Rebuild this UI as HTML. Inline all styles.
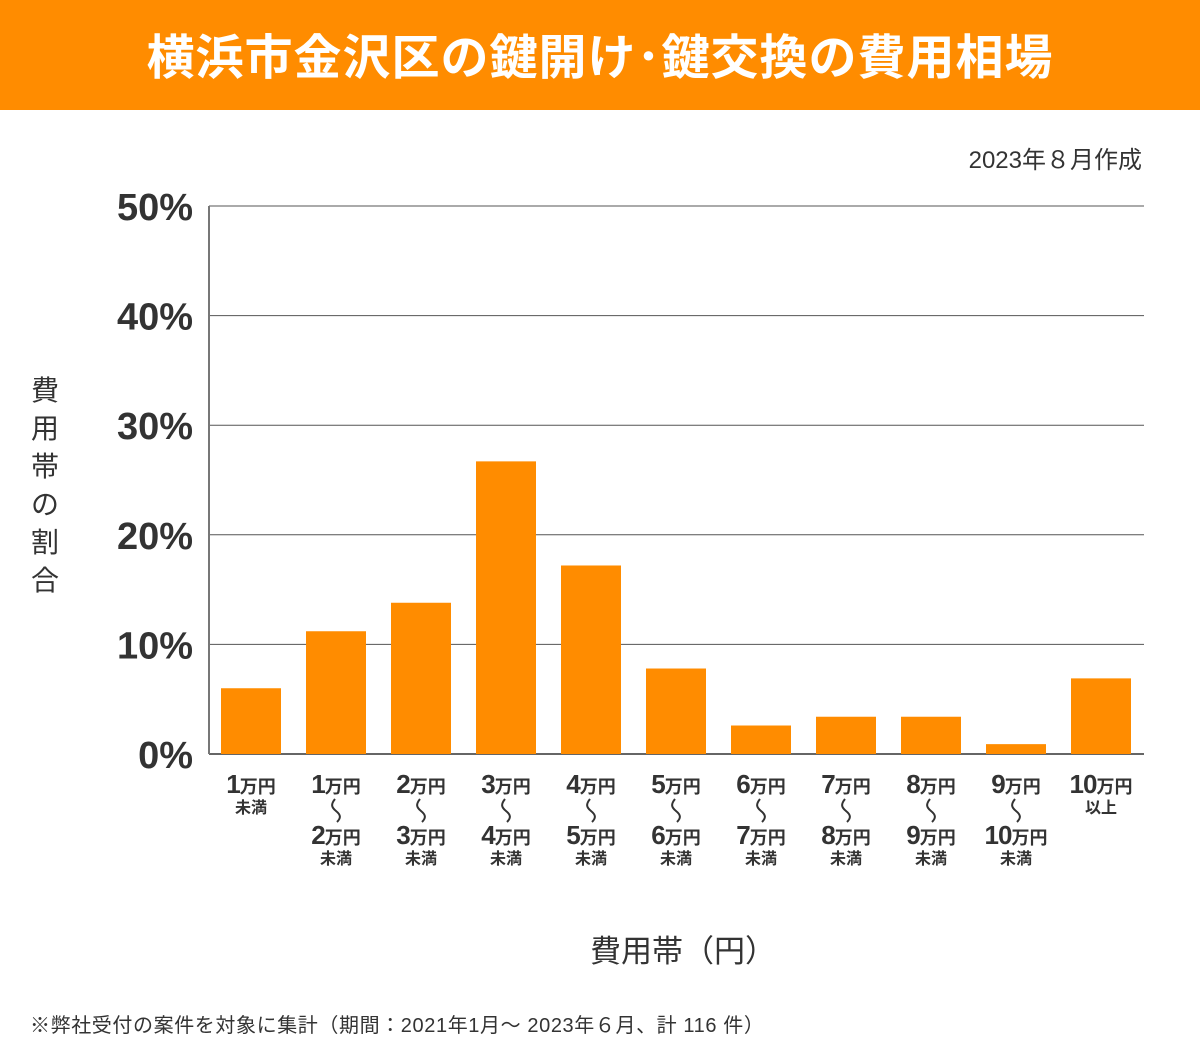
<!DOCTYPE html>
<html><head><meta charset="utf-8">
<style>
body{margin:0;width:1200px;height:1041px;background:#fff;font-family:"Liberation Sans","Noto Sans CJK JP",sans-serif;color:#333;position:relative;overflow:hidden}
.t{position:absolute;white-space:nowrap}
</style></head><body>
<div style="position:absolute;left:0;top:0;width:1200px;height:110px;background:#FF8C00"></div>
<div class="t" style="left:0;width:1200px;top:28px;text-align:center;color:#fff;font-weight:bold;font-size:48px;line-height:62px;letter-spacing:1px">横浜市金沢区の鍵開け･鍵交換の費用相場</div>
<div class="t" style="right:58px;top:140px;font-size:24px">2023年８月作成</div>
<div class="t" style="left:28px;top:372px;width:34px;font-size:28px;line-height:38px;white-space:normal;text-align:center">費用帯の割合</div>
<div class="t" style="left:590px;top:926px;font-size:31px">費用帯（円）</div>
<div class="t" style="left:30px;top:1009px;font-size:20px;letter-spacing:0.6px">※弊社受付の案件を対象に集計（期間：2021年1月～ 2023年６月、計 116 件）</div>
<svg id="chart" width="1200" height="1041" style="position:absolute;left:0;top:0"></svg>
<script>
const categories=[["1","未満"],["1","2","未満"],["2","3","未満"],["3","4","未満"],["4","5","未満"],["5","6","未満"],["6","7","未満"],["7","8","未満"],["8","9","未満"],["9","10","未満"],["10","以上"]];
const values=[6.0,11.2,13.8,26.7,17.2,7.8,2.6,3.4,3.4,0.9,6.9];
const yTicks=[0,10,20,30,40,50];
const NS="http://www.w3.org/2000/svg";
const svg=document.getElementById('chart');
const x0=209,x1=1144,yBase=754,yTop=206;
const y=v=>yBase-(v/50)*(yBase-yTop);
const step=85,first=251,bw=60;
const xc=i=>first+i*step;
function mk(tag,attrs,txt){const e=document.createElementNS(NS,tag);for(const k in attrs)e.setAttribute(k,attrs[k]);if(txt!==undefined)e.textContent=txt;svg.appendChild(e);return e;}
yTicks.forEach(t=>{
  const l=mk('line',{x1:x0,x2:x1,y1:y(t),y2:y(t),stroke:t===0?'#333':'#555','stroke-width':t===0?1.5:1});
  
  
  const tx=mk('text',{x:193,y:y(t)+14,'text-anchor':'end','font-size':38,'font-weight':'bold',fill:'#333','font-family':'Liberation Sans, sans-serif'},t+'%');
  
  
});
const ax=mk('line',{x1:x0,x2:x0,y1:yTop,y2:yBase,stroke:'#777','stroke-width':2});


values.forEach((v,i)=>{
  const r=mk('rect',{x:xc(i)-bw/2,y:y(v),width:bw,height:yBase-y(v),fill:'#FF8C00'});
  
  
});
const F='Liberation Sans, Noto Sans CJK JP, sans-serif';
function amount(cx,yy,num){
  const g=mk('text',{x:cx,y:yy,'text-anchor':'middle','font-weight':'bold',fill:'#333','font-family':F});
  
  
  const a=document.createElementNS(NS,'tspan');a.setAttribute('font-size','26');a.setAttribute('letter-spacing','-1');a.textContent=num;g.appendChild(a);
  const b=document.createElementNS(NS,'tspan');b.setAttribute('font-size','18');b.textContent='万円';g.appendChild(b);
}
function small(cx,yy,s){const e=mk('text',{x:cx,y:yy,'text-anchor':'middle','font-size':16,'font-weight':'bold',fill:'#333','font-family':F},s);
  
  }
categories.forEach((c,i)=>{
  const cx=xc(i);
  amount(cx,793,c[0]);
  if(c.length===2){small(cx,813,c[1]);}
  else{
    const w=mk('path',{d:`M${cx-1},799 C${cx-5},804 ${cx-5},807 ${cx},811 C${cx+5},815 ${cx+5},818 ${cx+1},822`,fill:'none',stroke:'#333','stroke-width':2});
    
    
    amount(cx,844,c[1]);small(cx,864,c[2]);
  }
});
</script>
</body></html>
